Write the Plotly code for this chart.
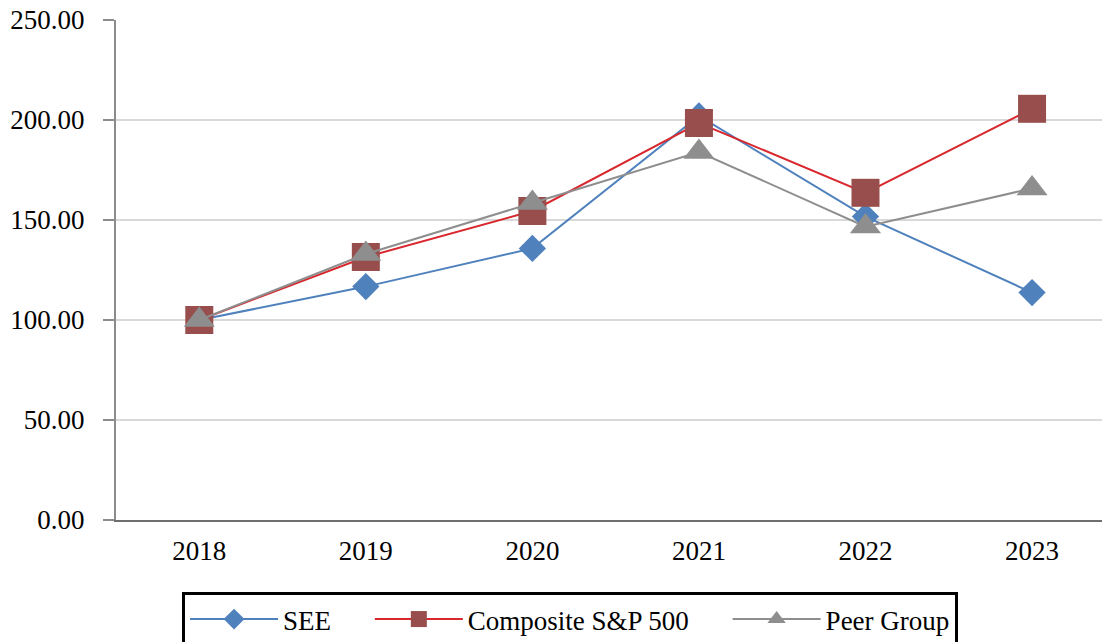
import plotly.graph_objects as go

years = ["2018", "2019", "2020", "2021", "2022", "2023"]
see = [100.0, 116.7, 135.8, 202.0, 151.7, 113.7]
sp500 = [100.0, 131.5, 154.5, 198.5, 163.6, 205.6]
peer = [100.0, 133.0, 158.5, 184.0, 146.7, 165.8]
y_ticks = [0, 50, 100, 150, 200, 250]
y_tick_text = ["0.00", "50.00", "100.00", "150.00", "200.00", "250.00"]

FONT = "Liberation Serif, Times New Roman, serif"
PAD = "\u00a0" * 5

fig = go.Figure()
fig.add_trace(go.Scatter(
    x=list(range(len(years))), y=see, name="SEE" + PAD, mode="lines+markers",
    line=dict(color="#4F81BD", width=2),
    marker=dict(symbol="diamond", size=21, color="#4F81BD"),
))
fig.add_trace(go.Scatter(
    x=list(range(len(years))), y=sp500, name="Composite S&P 500" + PAD, mode="lines+markers",
    line=dict(color="#D9272E", width=2),
    marker=dict(symbol="square", size=28, color="#984E4C"),
))
fig.add_trace(go.Scatter(
    x=list(range(len(years))), y=peer, name="Peer Group", mode="lines+markers",
    line=dict(color="#8E8E8E", width=2),
    marker=dict(symbol="triangle-up", size=27, color="#8E8E8E"),
))

fig.update_layout(
    width=1102, height=642,
    margin=dict(l=116, r=0, t=20, b=122, autoexpand=False),
    paper_bgcolor="white", plot_bgcolor="white",
    font=dict(family=FONT, size=27, color="black"),
    showlegend=True,
    legend=dict(
        orientation="h", x=0.067, xanchor="left", y=-0.144, yanchor="top",
        bordercolor="black", borderwidth=3, bgcolor="white",
        font=dict(family=FONT, size=27, color="black"),
        itemwidth=88,
    ),
    xaxis=dict(
        tickmode="array", tickvals=list(range(len(years))), ticktext=years,
        range=[-0.5, 5.42], showgrid=False, zeroline=False,
        showline=True, linecolor="#6E6E6E", linewidth=2,
        ticks="", ticklabelstandoff=6, tickfont=dict(family=FONT, size=27),
    ),
    yaxis=dict(
        range=[0, 250], tickmode="array", tickvals=y_ticks, ticktext=y_tick_text,
        showgrid=True, gridcolor="#D9D9D9", gridwidth=1.5,
        zeroline=False, showline=True, linecolor="#8C8C8C", linewidth=2,
        ticks="outside", ticklen=11, tickcolor="#8C8C8C", tickwidth=2,
        ticklabelstandoff=13, ticklabeloverflow="allow",
        tickfont=dict(family=FONT, size=27),
    ),
)

fig.write_html(
    "out.html",
    config={"displayModeBar": False},
    post_script="document.body.style.margin='0';",
)
